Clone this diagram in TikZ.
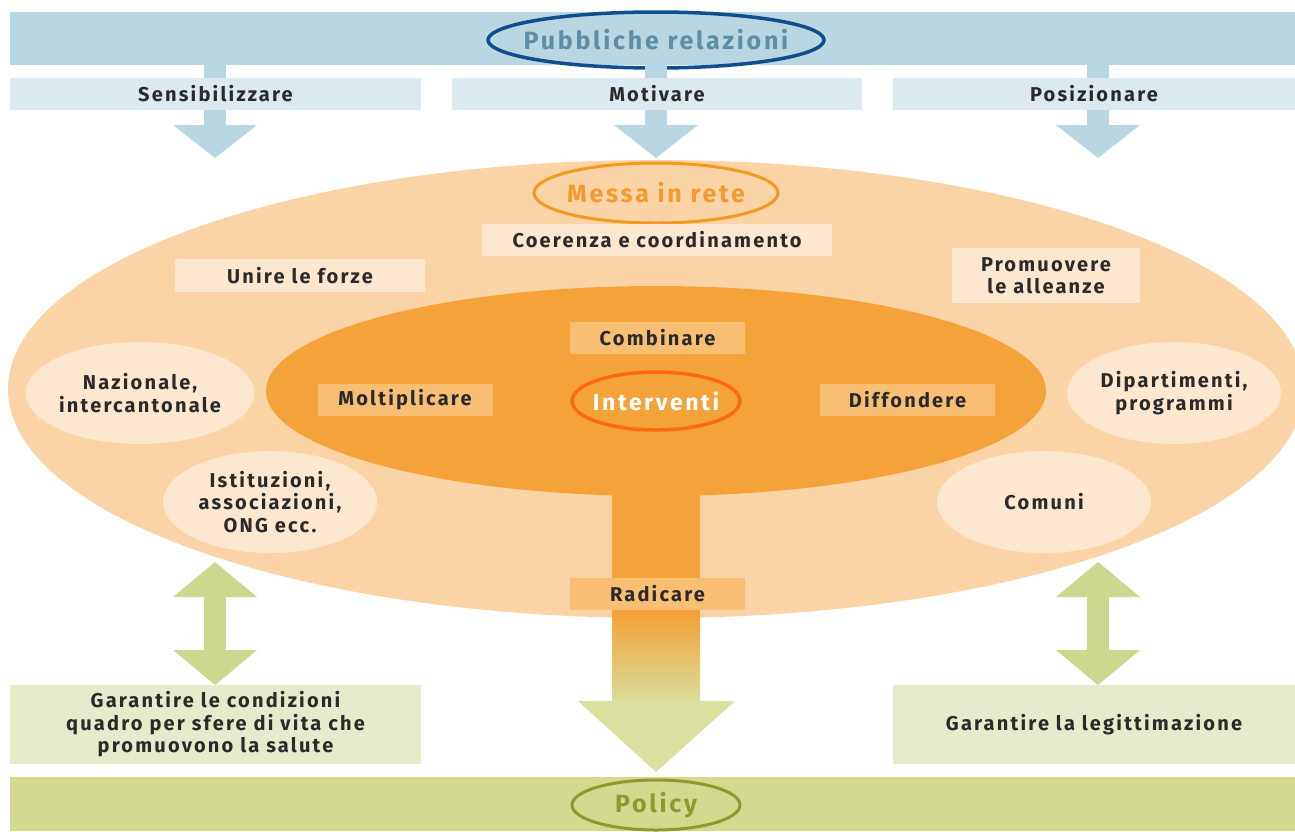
\documentclass[tikz,border=0pt]{standalone}
\usepackage{fontspec}
\setmainfont{Fira Sans}[LetterSpace=11]
\usetikzlibrary{shapes.geometric}
\definecolor{bandblue}{HTML}{B9D7E2}
\definecolor{subblue}{HTML}{DCEAF0}
\definecolor{prblue}{HTML}{5E8EA5}
\definecolor{ringblue}{HTML}{0E4E8E}
\definecolor{outerorange}{HTML}{FAD4A6}
\definecolor{paleorange}{HTML}{FDE7CE}
\definecolor{innerorange}{HTML}{F4A33A}
\definecolor{boxorange}{HTML}{F8BE74}
\definecolor{messaorange}{HTML}{F29A2E}
\definecolor{ringorange}{HTML}{F39A1E}
\definecolor{ringred}{HTML}{FF6A10}
\definecolor{green}{HTML}{CDD78E}
\definecolor{palegreen}{HTML}{E6ECCB}
\definecolor{policygreen}{HTML}{D3DA8F}
\definecolor{policytext}{HTML}{8C9B30}
\definecolor{ringgreen}{HTML}{8E9A2B}
\definecolor{txt}{HTML}{2A2A2A}
\tikzset{
  lbl/.style={font=\fontsize{20}{22.5}\selectfont\bfseries, text=txt, align=center, inner sep=0pt},
  subbox/.style={lbl, fill=subblue, minimum height=32pt},
  labbox/.style={lbl, fill=paleorange, minimum height=32pt},
  innerbox/.style={lbl, fill=boxorange, minimum width=175pt, minimum height=32pt},
  pale/.style={lbl, fill=paleorange, ellipse, minimum width=214pt, minimum height=102pt},
  greenbox/.style={lbl, fill=palegreen, minimum width=411pt, minimum height=79pt},
  title/.style={font=\fontsize{25}{28}\selectfont\bfseries, inner sep=0pt},
  ring/.style={draw, ellipse, line width=3.5pt, fill=none}
}
\begin{document}
\begin{tikzpicture}[x=1pt,y=-1pt]
\useasboundingbox (0,0) rectangle (1295,831);
\clip (0,0) rectangle (1295,831);
\fill[white] (0,0) rectangle (1295,831);

% top band
\fill[bandblue] (10,12) rectangle (1295,65);
\node[title, text=prblue] (pr) at (656,40) {Pubbliche relazioni};
\draw[ring, ringblue] (656,40) ellipse [x radius=168pt, y radius=28pt];

% three blue arrows
\foreach \cx in {215,656,1098}{
  \fill[bandblue] (\cx-11,65) rectangle (\cx+11,126);
  \fill[bandblue] (\cx-42,125) -- (\cx+42,125) -- (\cx,158) -- cycle;
}
\node[subbox, minimum width=411pt] (sens) at (215.5,94) {Sensibilizzare};
\node[subbox, minimum width=410pt] (moti) at (657,94) {Motivare};
\node[subbox, minimum width=402pt] (posi) at (1094,94) {Posizionare};

% big outer ellipse
\fill[outerorange] (656,389) ellipse [x radius=648pt, y radius=229pt];
\node[title, text=messaorange] (messa) at (656,193) {Messa in rete};
\draw[ring, ringorange, line width=3pt] (656,193) ellipse [x radius=122pt, y radius=30pt];

\node[labbox, minimum width=350pt] (coer) at (657,240) {Coerenza e coordinamento};
\node[labbox, minimum width=250pt, minimum height=33pt] (unire) at (300,275.5) {Unire le forze};
\node[labbox, minimum width=188pt, minimum height=55pt] (prom) at (1046,275.5) {Promuovere\\le alleanze};

\node[pale] (naz) at (140,393) {Nazionale,\\intercantonale};
\node[pale] (ist) at (270,502) {Istituzioni,\\associazioni,\\ONG ecc.};
\node[pale] (dip) at (1174,393) {Dipartimenti,\\programmi};
\node[pale] (com) at (1044,502) {Comuni};

% stem down to policy
\fill[innerorange] (612,450) rectangle (700,616);
\shade[top color=innerorange, bottom color=policygreen!90!white] (612,615) rectangle (700,702);
\fill[policygreen!85!white] (578,701) -- (735,701) -- (656,772) -- cycle;

% inner ellipse
\fill[innerorange] (656,391) ellipse [x radius=390pt, y radius=105pt];
\node[innerbox] (comb) at (657.5,338) {Combinare};
\node[innerbox] (molt) at (405,400) {Moltiplicare};
\node[innerbox] (diff) at (907.5,400) {Diffondere};
\node[title, text=white, font=\fontsize{23}{26}\selectfont\bfseries] (int) at (656,401) {Interventi};
\draw[ring, ringred, line width=3.5pt] (656,401) ellipse [x radius=84pt, y radius=29pt];

\node[innerbox] (rad) at (657.5,594) {Radicare};

% green double arrows
\foreach \cx in {215,1098}{
  \fill[green] (\cx,562) -- (\cx+42,597) -- (\cx-42,597) -- cycle;
  \fill[green] (\cx-11,596) rectangle (\cx+11,651);
  \fill[green] (\cx-42,650) -- (\cx+42,650) -- (\cx,685) -- cycle;
}

\node[greenbox] (gar1) at (215.5,724.5) {Garantire le condizioni\\quadro per sfere di vita che\\promuovono la salute};
\node[greenbox, minimum width=402pt] (gar2) at (1094,724.5) {Garantire la legittimazione};

% policy band
\fill[policygreen] (10,777) rectangle (1295,831);
\node[title, text=policytext] (pol) at (656,805) {Policy};
\draw[ring, ringgreen, line width=3pt] (656,805) ellipse [x radius=84pt, y radius=25pt];
\end{tikzpicture}
\end{document}
